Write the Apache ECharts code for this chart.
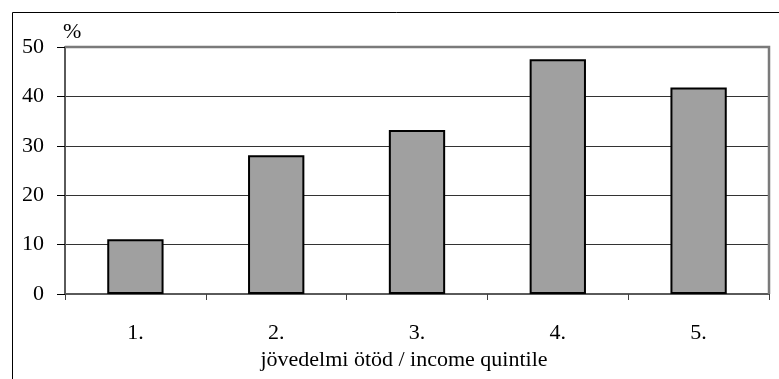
<!DOCTYPE html>
<html>
<head>
<meta charset="utf-8">
<script src="https://cdn.jsdelivr.net/npm/echarts@6/dist/echarts.min.js"></script>
<style>
  html, body { margin: 0; padding: 0; background: #fff; }
  #chart { width: 779px; height: 379px; }
</style>
</head>
<body>
<div id="chart"></div>
<script>
// Share by income quintile (%)
const categories = ['1.', '2.', '3.', '4.', '5.'];
const values = [11.1, 28.1, 33.2, 47.5, 41.8];
const yTicks = [0, 10, 20, 30, 40, 50];

const FONT = 'Liberation Serif';
const chart = echarts.init(document.getElementById('chart'), null, { renderer: 'canvas' });

chart.setOption({
  animation: false,
  backgroundColor: '#fff',
  grid: { left: 65, right: 10, top: 47, bottom: 85, containLabel: false },
  graphic: {
    elements: [
      {
        type: 'rect',
        shape: { x: 12.5, y: 12.5, width: 820, height: 420 },
        style: { fill: 'none', stroke: '#000', lineWidth: 1 },
        z: 0
      },
      {
        type: 'text',
        left: 63, top: 21,
        style: { text: '%', font: '22px "Liberation Serif"', fill: '#000' }
      },
      {
        // plot-area frame along the top and right edges
        type: 'polyline',
        shape: { points: [[65, 47], [769, 47], [769, 294]] },
        style: { stroke: '#7a7a7a', lineWidth: 2.5, fill: 'none' },
        z: 50
      }
    ]
  },
  xAxis: {
    type: 'category',
    data: categories,
    name: 'jövedelmi ötöd / income quintile',
    nameLocation: 'middle',
    nameGap: 51,
    nameTextStyle: { fontFamily: FONT, fontSize: 22, color: '#000', padding: [0, 26, 0, 0] },
    axisLine: { lineStyle: { color: '#5a5a5a', width: 2 } },
    axisTick: { show: true, alignWithLabel: false, length: 6, lineStyle: { color: '#404040' } },
    axisLabel: { fontFamily: FONT, fontSize: 22, color: '#000', margin: 28 }
  },
  yAxis: {
    type: 'value',
    min: yTicks[0],
    max: yTicks[yTicks.length - 1],
    interval: 10,
    axisLine: { show: true, lineStyle: { color: '#5a5a5a', width: 2 } },
    axisTick: { show: true, length: 8, lineStyle: { color: '#000' } },
    axisLabel: { fontFamily: FONT, fontSize: 22, color: '#000', margin: 21 },
    splitLine: { show: true, lineStyle: { color: '#333', width: 1 } }
  },
  series: [{
    type: 'bar',
    data: values,
    barWidth: '40%',
    itemStyle: { color: '#a0a0a0', borderColor: '#000', borderWidth: 2 }
  }]
});
</script>
</body>
</html>
